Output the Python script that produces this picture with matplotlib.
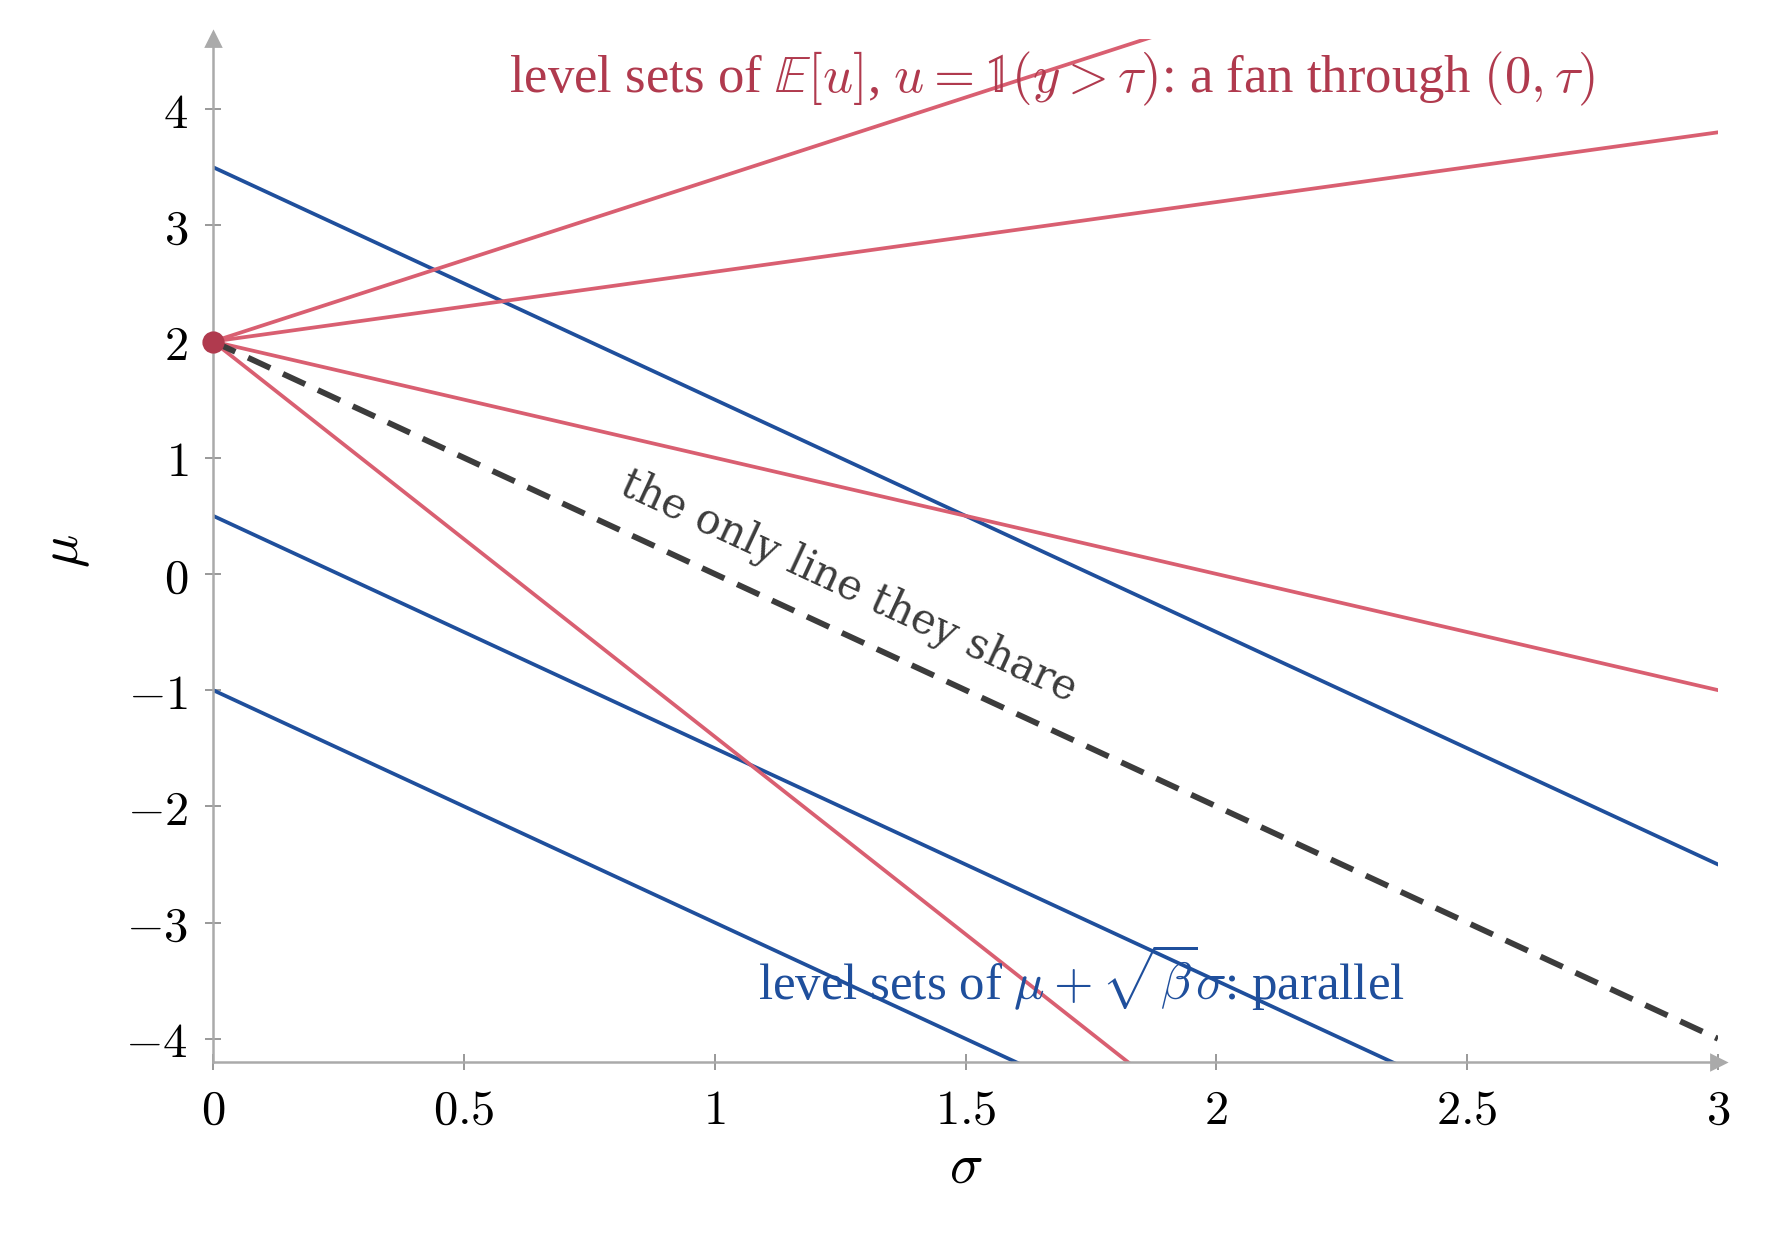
import numpy as np
import matplotlib
matplotlib.use("Agg")
import matplotlib.pyplot as plt

plt.rcParams['mathtext.fontset'] = 'cm'
plt.rcParams['font.family'] = ['DejaVu Serif']

# data: level sets in the (sigma, mu) plane
sigma = np.array([0.0, 3.0])
sqrt_beta = 2.0                      # slope of the parallel family
blue_levels = [3.5, 0.5, -1.0]       # mu + sqrt(beta) sigma = c
tau = 2.0                            # fan centre (0, tau)
fan_slopes = [1.4, 0.6, -1.0, -3.4]  # mu = tau + k sigma
x_ticks = [0, 0.5, 1, 1.5, 2, 2.5, 3]
x_tick_labels = ['0', '0.5', '1', '1.5', '2', '2.5', '3']
y_ticks = [-4, -3, -2, -1, 0, 1, 2, 3, 4]

BLUE = '#1f4f9c'
RED_LINE = '#d95f71'
RED_TEXT = '#b03a4e'
GREY = '#aaaaaa'
DARK = '#3c3c3c'

fig = plt.figure(figsize=(8.93, 6.17), dpi=200)
ax = fig.add_axes([0.1193, 0.1394, 0.8426, 0.8287])
ax.set_xlim(0, 3)
ax.set_ylim(-4.2, 4.6)

for c in blue_levels:
    ax.plot(sigma, c - sqrt_beta * sigma, color=BLUE, lw=1.35)

for k in fan_slopes:
    ax.plot(sigma, tau + k * sigma, color=RED_LINE, lw=1.35)

# the shared line
ax.plot(sigma, tau - sqrt_beta * sigma, color=DARK, lw=2.1, dashes=(4.2, 2.4))

ax.plot([0], [tau], 'o', color=RED_TEXT, ms=7, clip_on=False, zorder=5)

# axes look
for s in ['top', 'right']:
    ax.spines[s].set_visible(False)
for s in ['left', 'bottom']:
    ax.spines[s].set_color(GREY)
    ax.spines[s].set_linewidth(0.9)
ax.plot(1, 0, '>', color=GREY, ms=5, transform=ax.transAxes, clip_on=False)
ax.plot(0, 1, '^', color=GREY, ms=5, transform=ax.transAxes, clip_on=False)

ax.set_xticks(x_ticks)
ax.set_xticklabels(['$' + t + '$' for t in x_tick_labels])
ax.set_yticks(y_ticks)
ax.set_yticklabels(['$%d$' % v if v >= 0 else '$-%d$' % -v for v in y_ticks])
ax.tick_params(direction='inout', length=6, width=0.6, color='#888888',
               labelsize=17.5, pad=6)

ax.set_xlabel(r'$\sigma$', fontsize=20, labelpad=2)
ax.set_ylabel(r'$\mu$', fontsize=20, labelpad=12)

# labels
ax.text(2.755, 4.14, r'level sets of $\mathbb{E}[u]$, $u = \mathbb{1}(y > \tau)$: a fan through $(0, \tau)$',
        color=RED_TEXT, fontsize=19, ha='right', va='baseline',
        family=['Liberation Serif', 'DejaVu Serif'])
ax.text(1.086, -3.67, r'level sets of $\mu + \sqrt{\beta}\sigma$: parallel',
        color=BLUE, fontsize=18.3, ha='left', va='baseline',
        family=['Liberation Serif', 'DejaVu Serif'])

fig.canvas.draw()
angle = ax.transData.transform_angles(np.array([np.degrees(np.arctan(-sqrt_beta))]),
                                      np.array([[1.0, 0.0]]))[0]
ax.text(1.267, -0.11, 'the only line they share', color=DARK, fontsize=15,
        rotation=angle, rotation_mode='anchor', ha='center', va='center')

fig.savefig('out.png', dpi=200)
